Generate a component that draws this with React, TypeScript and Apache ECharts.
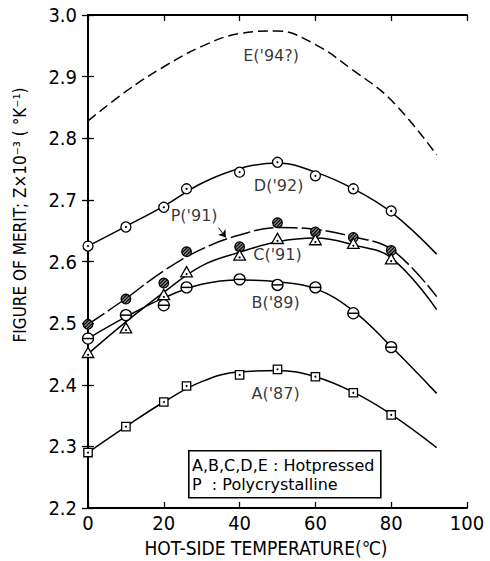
import React, { useEffect, useRef } from "react";
import * as echarts from "echarts";

// ---- data ----
const X_TICKS = [0, 20, 40, 60, 80, 100];
const Y_TICKS = [2.2, 2.3, 2.4, 2.5, 2.6, 2.7, 2.8, 2.9, 3.0];

// fitted curves (x positions and values)
const CURVE_X = [0, 10, 20, 30, 40, 50, 60, 70, 80, 92];
const curveA = [2.29, 2.332, 2.372, 2.405, 2.421, 2.423, 2.413, 2.388, 2.352, 2.298];
const curveB = [2.475, 2.51, 2.541, 2.563, 2.57, 2.567, 2.556, 2.52, 2.462, 2.386];
const curveC = [2.45, 2.502, 2.55, 2.593, 2.615, 2.632, 2.638, 2.627, 2.606, 2.522];
const curveD = [2.625, 2.657, 2.69, 2.727, 2.751, 2.76, 2.745, 2.718, 2.68, 2.612];
const curveE = [2.828, 2.876, 2.916, 2.949, 2.97, 2.974, 2.952, 2.91, 2.862, 2.773];
const curveP = [2.498, 2.54, 2.585, 2.62, 2.643, 2.655, 2.652, 2.64, 2.62, 2.543];

// measured points
const POINT_X = [0, 10, 20, 26, 40, 50, 60, 70, 80];
const pointsA = [2.29, 2.332, 2.372, 2.398, 2.416, 2.425, 2.413, 2.387, 2.351];
const pointsB = [2.475, 2.513, 2.529, 2.558, 2.571, 2.562, 2.558, 2.516, 2.461];
const pointsC = [2.451, 2.491, 2.545, 2.582, 2.609, 2.636, 2.634, 2.628, 2.603];
const pointsD = [2.625, 2.656, 2.688, 2.718, 2.745, 2.761, 2.739, 2.718, 2.682];
const pointsP = [2.498, 2.539, 2.565, 2.616, 2.624, 2.663, 2.648, 2.639, 2.618];

// curve labels (data coordinates of label centres)
const labelNames = ["E('94?)", "D('92)", "P('91)", "C('91)", "B('89)", "A('87)"];
const labelX = [48.3, 50.3, 28, 50, 49.5, 49.5];
const labelY = [2.935, 2.724, 2.674, 2.611, 2.533, 2.386];

// arrow from P label to P curve
const arrowFrom = [34.4, 2.655];
const arrowTo = [36.4, 2.639];

const legendLines = ["A,B,C,D,E : Hotpressed", "P  : Polycrystalline"];
const xTitle = "HOT-SIDE TEMPERATURE(℃)";
const yTitle = "FIGURE OF MERIT; Z×10⁻³ ( °K⁻¹)";

const NARROW = "'Liberation Sans Narrow', 'DejaVu Sans Condensed', 'Liberation Sans', sans-serif";
const SANS = "'DejaVu Sans', 'Liberation Sans', sans-serif";

const zip = (xs: number[], ys: number[]) => xs.map((x, i) => [x, ys[i]]);

type Kind = "square" | "bar" | "tri" | "dot" | "hatch";

function makeRender(kind: Kind) {
  return (_params: any, api: any) => {
    const [cx, cy] = api.coord([api.value(0), api.value(1)]);
    const stroke = { stroke: "#000", lineWidth: 1.3, fill: "#fff" };
    const children: any[] = [];
    if (kind === "square") {
      children.push({ type: "rect", shape: { x: cx - 4.2, y: cy - 4.2, width: 8.4, height: 8.4 }, style: stroke });
      children.push({ type: "circle", shape: { cx, cy, r: 1 }, style: { fill: "#000" } });
    } else if (kind === "bar") {
      children.push({ type: "circle", shape: { cx, cy, r: 5.5 }, style: stroke });
      children.push({ type: "line", shape: { x1: cx - 5.5, y1: cy, x2: cx + 5.5, y2: cy }, style: { stroke: "#000", lineWidth: 1.5 } });
    } else if (kind === "tri") {
      children.push({
        type: "polygon",
        shape: { points: [[cx, cy - 6], [cx + 5.8, cy + 4.2], [cx - 5.8, cy + 4.2]] },
        style: stroke,
      });
      children.push({ type: "circle", shape: { cx, cy: cy + 1.5, r: 1 }, style: { fill: "#000" } });
    } else if (kind === "dot") {
      children.push({ type: "circle", shape: { cx, cy, r: 5 }, style: stroke });
      children.push({ type: "circle", shape: { cx, cy, r: 1.1 }, style: { fill: "#000" } });
    } else {
      children.push({ type: "circle", shape: { cx, cy, r: 4.8 }, style: { stroke: "#000", lineWidth: 1.3, fill: "#888" } });
      for (const d of [-2.4, 0, 2.4]) {
        const h = Math.sqrt(Math.max(0, 4.5 * 4.5 - d * d));
        const ox = d * 0.707, oy = d * 0.707;
        children.push({
          type: "line",
          shape: { x1: cx + ox - h * 0.707, y1: cy + oy + h * 0.707, x2: cx + ox + h * 0.707, y2: cy + oy - h * 0.707 },
          style: { stroke: "#000", lineWidth: 1.1 },
        });
      }
    }
    return { type: "group", children };
  };
}

export default function App() {
  const ref = useRef<HTMLDivElement>(null);
  useEffect(() => {
    if (!ref.current) return;
    const chart = echarts.init(ref.current, null, { renderer: "svg" });
    const lineSeries = (data: number[], dash: any = "solid", extra: any = {}) => ({
      type: "line",
      data: zip(CURVE_X, data),
      smooth: 0.4,
      showSymbol: false,
      symbol: "none",
      lineStyle: { color: "#000", width: 1.5, type: dash },
      z: 2,
      ...extra,
    });
    const markerSeries = (data: number[], kind: Kind) => ({
      type: "custom",
      data: zip(POINT_X, data),
      renderItem: makeRender(kind),
      encode: { x: 0, y: 1 },
      z: 5,
    });
    const axisLine = { show: true, lineStyle: { color: "#000", width: 1.8 } };
    const axisTick = { show: true, inside: true, length: 6, lineStyle: { color: "#000", width: 1.3 } };
    chart.setOption({
      animation: false,
      backgroundColor: "#fff",
      grid: { left: 88, right: 23, top: 15, bottom: 53 },
      xAxis: [
        {
          type: "value",
          min: X_TICKS[0],
          max: X_TICKS[X_TICKS.length - 1],
          interval: 20,
          axisLine,
          axisTick,
          axisLabel: { color: "#000", fontFamily: NARROW, fontSize: 20, margin: 5 },
          splitLine: { show: false },
        },
        {
          type: "value",
          position: "top",
          min: X_TICKS[0],
          max: X_TICKS[X_TICKS.length - 1],
          interval: 20,
          axisLine,
          axisTick,
          axisLabel: { show: false },
          splitLine: { show: false },
        },
      ],
      yAxis: [
        {
          type: "value",
          min: Y_TICKS[0],
          max: Y_TICKS[Y_TICKS.length - 1],
          interval: 0.1,
          axisLine,
          axisTick,
          axisLabel: { color: "#000", fontFamily: NARROW, fontSize: 20, margin: 11, formatter: (v: number) => v.toFixed(1) },
          splitLine: { show: false },
        },
        {
          type: "value",
          position: "right",
          min: Y_TICKS[0],
          max: Y_TICKS[Y_TICKS.length - 1],
          interval: 0.1,
          axisLine,
          axisTick,
          axisLabel: { show: false },
          splitLine: { show: false },
        },
      ],
      series: [
        lineSeries(curveE, [10, 5]),
        lineSeries(curveD),
        lineSeries(curveP, [20, 4], {
          markLine: {
            silent: true,
            symbol: ["none", "arrow"],
            symbolSize: 7,
            label: { show: false },
            lineStyle: { color: "#000", width: 1, type: "solid" },
            data: [[{ coord: arrowFrom }, { coord: arrowTo }]],
          },
        }),
        lineSeries(curveC),
        lineSeries(curveB),
        lineSeries(curveA),
        markerSeries(pointsD, "dot"),
        markerSeries(pointsP, "hatch"),
        markerSeries(pointsC, "tri"),
        markerSeries(pointsB, "bar"),
        markerSeries(pointsA, "square"),
        {
          type: "scatter",
          data: labelNames.map((n, i) => ({ name: n, value: [labelX[i], labelY[i]] })),
          symbolSize: 1,
          itemStyle: { color: "rgba(0,0,0,0)" },
          label: {
            show: true,
            position: "inside",
            formatter: (p: any) => p.name,
            color: "#000",
            fontFamily: SANS,
            fontSize: 16,
          },
          z: 6,
        },
      ],
      graphic: [
        {
          type: "rect",
          left: 188,
          top: 450,
          shape: { width: 192, height: 47 },
          style: { fill: "#fff", stroke: "#000", lineWidth: 1.6 },
          z: 10,
        },
        {
          type: "text",
          x: 192,
          y: 465,
          style: { text: legendLines[0], fill: "#000", font: `16px ${SANS}`, verticalAlign: "middle" },
          z: 11,
        },
        {
          type: "text",
          x: 192,
          y: 484,
          style: { text: legendLines[1], fill: "#000", font: `16px ${SANS}`, verticalAlign: "middle" },
          z: 11,
        },
        {
          type: "text",
          x: 266,
          y: 548,
          style: { text: xTitle, fill: "#000", font: `19px ${NARROW}`, align: "center", verticalAlign: "middle" },
        },
        {
          type: "text",
          x: 20,
          y: 215,
          rotation: Math.PI / 2,
          style: { text: yTitle, fill: "#000", font: `17px ${NARROW}`, align: "center", verticalAlign: "middle" },
        },
      ],
    });
    return () => chart.dispose();
  }, []);
  return <div ref={ref} style={{ width: 490, height: 561, position: "absolute", left: 0, top: 0 }} />;
}
